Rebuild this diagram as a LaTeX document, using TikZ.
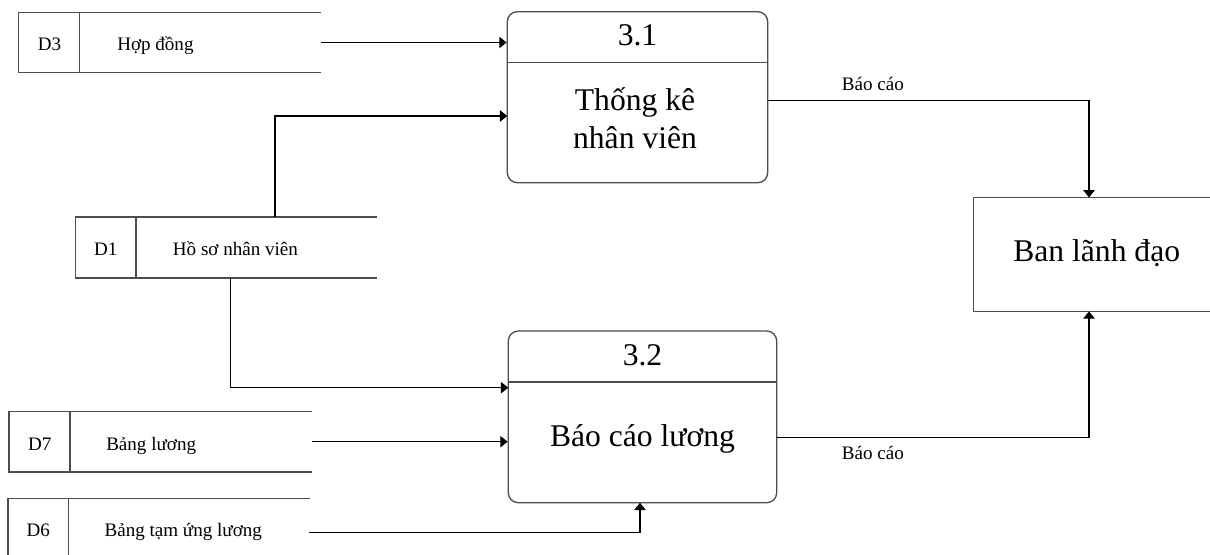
\documentclass[tikz,border=0pt]{standalone}
\usepackage{fontspec}
\setmainfont{Liberation Serif}
\usetikzlibrary{arrows.meta,fit}

\tikzset{
  proc/.style={draw=black!70, line width=1pt, rounded corners=7.5pt, inner sep=0pt},
  entity/.style={draw=black!70, line width=1pt, inner sep=0pt},
  store/.style={inner sep=0pt},
  storeline/.style={draw=black!70, line width=1pt},
  flow/.style={draw=black, line width=0.8pt, -{Triangle[length=5.5pt,width=8.5pt]}},
  small/.style={font=\fontsize{14.3}{17}\selectfont, inner sep=0pt},
  big/.style={font=\fontsize{23.7}{28.5}\selectfont, inner sep=0pt},
}

\begin{document}
\begin{tikzpicture}[x=0.75pt,y=-0.75pt]
\useasboundingbox (0,0) rectangle (1210,554);
\clip (0,0) rectangle (1210,554);

% ---------- processes ----------
\node[proc, fit={(507.3,11.7) (767.7,182.7)}] (p31) {};
\node[proc, fit={(508.3,331) (776.7,502.7)}] (p32) {};
\coordinate (p31div) at (0,62.3);
\coordinate (p32div) at (0,382);
\draw[storeline] (p31.west |- p31div) -- (p31.east |- p31div);
\draw[storeline] (p32.west |- p32div) -- (p32.east |- p32div);

\node[big, anchor=base] (p31id) at (637.5,45) {3.1};
\node[big, align=center] (p31txt) at (635,118) {Thống kê\\nhân viên};
\node[big, anchor=base] (p32id) at (642.5,365) {3.2};
\node[big, anchor=base] (p32txt) at (642.5,446) {Báo cáo lương};

% ---------- external entity ----------
\node[entity, fit={(973.3,197.5) (1220,311.3)}] (bld) {};
\node[big, anchor=base] (bldtxt) at (1096.7,261.7) {Ban lãnh đạo};

% ---------- data stores ----------
\node[store, fit={(19,12.7) (320.7,72.3)}] (d3) {};
\node[store, fit={(75.7,217.3) (377,277.7)}] (d1) {};
\node[store, fit={(9.3,411.7) (311.7,471.7)}] (d7) {};
\node[store, fit={(8.3,499) (309.3,559)}] (d6) {};
\coordinate (d3div) at (79.3,0);
\coordinate (d1div) at (136,0);
\coordinate (d7div) at (70,0);
\coordinate (d6div) at (68.3,0);
\foreach \s in {d3,d1,d7,d6}{
  \draw[storeline] (\s.north east) -- (\s.north west) -- (\s.south west) -- (\s.south east);
  \draw[storeline] (\s.north -| \s div) -- (\s.south -| \s div);
}

\node[small, anchor=base] (d3id) at (49.5,50) {D3};
\node[small, anchor=base west] (d3txt) at (117,50) {Hợp đồng};
\node[small, anchor=base] (d1id) at (105.8,255) {D1};
\node[small, anchor=base west] (d1txt) at (172.7,255) {Hồ sơ nhân viên};
\node[small, anchor=base] (d7id) at (39.7,450) {D7};
\node[small, anchor=base west] (d7txt) at (106,450) {Bảng lương};
\node[small, anchor=base] (d6id) at (38.3,536.7) {D6};
\node[small, anchor=base west] (d6txt) at (104.3,536.7) {Bảng tạm ứng lương};

% ---------- data flows ----------
\coordinate (d1up) at (275,217.3);
\coordinate (p31in) at (507.3,116);
\coordinate (d1down) at (230.7,277.7);
\coordinate (p32in) at (508.3,387.7);
\coordinate (d6out) at (309.3,532.3);
\coordinate (p32bot) at (640,502.7);
\coordinate (p31out) at (767.7,100.7);
\coordinate (bldtop) at (1089,197.5);
\coordinate (p32out) at (776.7,437.3);
\coordinate (bldbot) at (1089,311.3);

\draw[flow] (d3.east) -- (p31.west |- d3.east);
\draw[flow] (d1up) |- (p31in);
\draw[flow] (d1down) |- (p32in);
\draw[flow] (d7.east) -- (p32.west |- d7.east);
\draw[flow] (d6out) -| (p32bot);
\draw[flow] (p31out) -| (bldtop);
\draw[flow] (p32out) -| (bldbot);

\node[small, anchor=base west] (lbl1) at (841.7,90.7) {Báo cáo};
\node[small, anchor=base west] (lbl2) at (841.7,459) {Báo cáo};
\end{tikzpicture}
\end{document}
